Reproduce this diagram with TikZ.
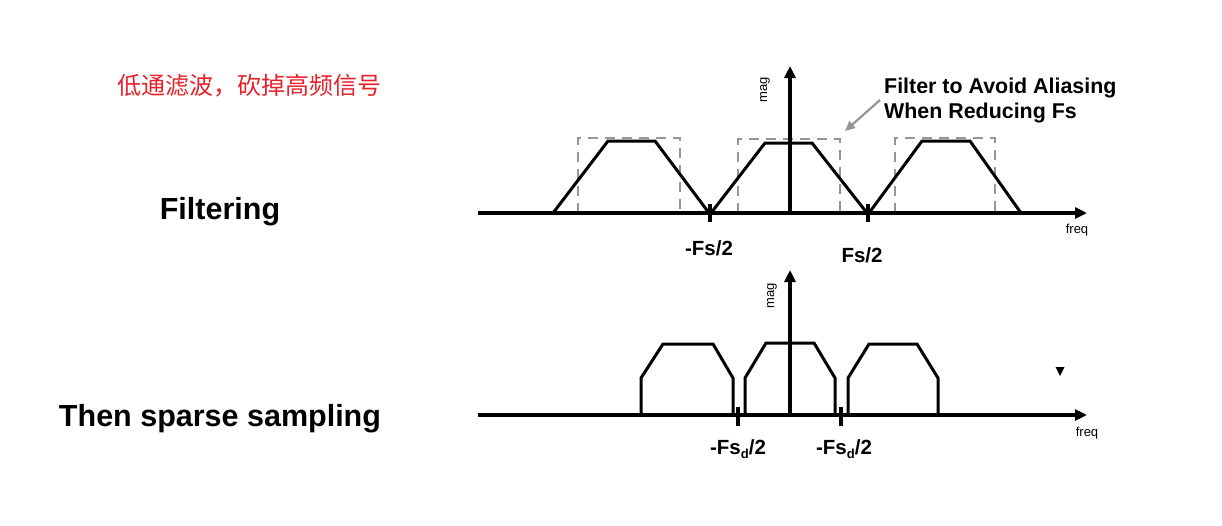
\documentclass[tikz,border=0pt]{standalone}
\usepackage{fontspec}
\setmainfont{Liberation Sans}
\newfontfamily\cjk{Noto Sans CJK SC}
\usetikzlibrary{arrows.meta}
\definecolor{cnred}{RGB}{232,32,42}
\definecolor{dashgray}{RGB}{150,150,150}
\tikzset{
  axis/.style={line width=3.4pt,-{Triangle[length=12pt,width=11pt]}},
  curve/.style={line width=3pt,line join=miter},
  guard/.style={line width=2.6pt,dashgray,dash pattern=on 10pt off 7pt},
  tickmark/.style={line width=3.2pt},
  biglabel/.style={font=\fontsize{30.5}{34}\selectfont\bfseries},
  flabel/.style={font=\fontsize{20.5}{24}\selectfont\bfseries},
  small/.style={font=\fontsize{13}{15}\selectfont},
}
\newcommand{\dsub}{\raisebox{-0.35ex}{\fontsize{13}{13}\selectfont d}}
\begin{document}
\begin{tikzpicture}[x=1pt,y=-1pt]
\useasboundingbox (0,0) rectangle (1222,525);
% ---- left labels
\node[font=\cjk\fontsize{24}{27}\selectfont,text=cnred] (cn) at (249,86) {低通滤波，砍掉高频信号};
\node[biglabel] (filt) at (220,212) {Filtering};
\node[biglabel] (sparse) at (220,419) {Then sparse sampling};
% ---- top panel
\coordinate (tx0) at (478,213);
\coordinate (tx1) at (1087,213);
\coordinate (ty0) at (790,213);
\coordinate (ty1) at (790,66);
\draw[guard] (578,213) -- (578,138) -- (680,138) -- (680,213);
\draw[guard] (738,213) -- (738,139) -- (840,139) -- (840,213);
\draw[guard] (895,213) -- (895,138) -- (995,138) -- (995,213);
\draw[curve] (553,213) -- (608,141) -- (655,141) -- (709,213);
\draw[curve] (711,213) -- (765,143) -- (812,143) -- (867,213);
\draw[curve] (869,213) -- (922,141) -- (970,141) -- (1021,213);
\draw[axis] (tx0) -- (tx1);
\draw[axis] (ty0) -- (ty1);
\draw[tickmark] (710,204) -- (710,222);
\draw[tickmark] (868,204) -- (868,222);
\node[small,rotate=90] (tmag) at (765,90) {mag};
\node[small] (tfreq) at (1077,230) {freq};
\node[flabel] (tneg) at (709,248) {-Fs/2};
\node[flabel] (tpos) at (862,255) {Fs/2};
\node[font=\fontsize{21.4}{25}\selectfont\bfseries,anchor=west,inner sep=0pt] (note1) at (884,88) {Filter to Avoid Aliasing};
\node[font=\fontsize{21.4}{25}\selectfont\bfseries,anchor=west,inner sep=0pt] (note2) at (884,113) {When Reducing Fs};
\coordinate (pt) at (845,131);
\draw[line width=2.2pt,dashgray,-{Triangle[length=10pt,width=9pt]}] (880,100) -- (pt);
% ---- bottom panel
\coordinate (bx0) at (478,415);
\coordinate (bx1) at (1087,415);
\coordinate (by0) at (790,415);
\coordinate (by1) at (790,270);
\draw[curve] (641,415) -- (641,378) -- (663,344) -- (713,344) -- (733,378) -- (733,415);
\draw[curve] (745,415) -- (745,378) -- (766,343) -- (814,343) -- (835,378) -- (835,415);
\draw[curve] (848,415) -- (848,378) -- (869,344) -- (917,344) -- (938,378) -- (938,415);
\draw[axis] (bx0) -- (bx1);
\draw[axis] (by0) -- (by1);
\draw[tickmark] (738,407) -- (738,426);
\draw[tickmark] (841,407) -- (841,426);
\node[small,rotate=90] (bmag) at (772,296) {mag};
\node[small] (bfreq) at (1087,433) {freq};
\node[flabel] (bneg) at (738,449) {-Fs\dsub/2};
\node[flabel] (bpos) at (844,449) {-Fs\dsub/2};
\fill (1055.5,367) -- (1064.5,367) -- (1060,376) -- cycle;
\end{tikzpicture}
\end{document}
